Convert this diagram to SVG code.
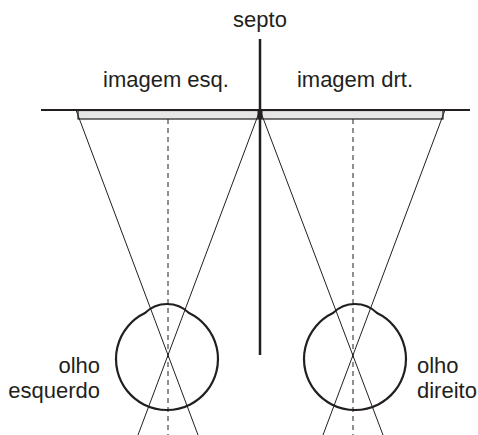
<svg xmlns="http://www.w3.org/2000/svg" width="478" height="435" viewBox="0 0 478 435">
  <style>
    .lbl { font-family: "Liberation Sans", Arial, sans-serif; font-size: 22px; fill: #231f20; }
    .ray { stroke: #231f20; stroke-width: 1; fill: none; }
    .axis { stroke: #231f20; stroke-width: 1; stroke-dasharray: 5 4; fill: none; }
    .eye { stroke: #231f20; stroke-width: 2.2; fill: none; }
    .bar { fill: #e6e6e6; stroke: #231f20; stroke-width: 1.2; }
  </style>
  <rect width="478" height="435" fill="#ffffff"/>

  <!-- screen with the two images -->
  <g id="screen">
    <rect class="bar" x="78" y="110.5" width="181" height="8.5"/>
    <rect class="bar" x="261" y="110.5" width="182" height="8.5"/>
    <line x1="41" y1="110" x2="470" y2="110" stroke="#231f20" stroke-width="2.2"/>
  </g>

  <!-- connectors: light rays and optical axes -->
  <g id="connectors">
    <line class="ray" x1="76" y1="110" x2="198" y2="435"/>
    <line class="ray" x1="260" y1="110" x2="138" y2="435"/>
    <line class="ray" x1="260" y1="110" x2="383" y2="435"/>
    <line class="ray" x1="445" y1="110" x2="323" y2="435"/>
    <line class="axis" x1="168" y1="119" x2="168" y2="435"/>
    <line class="axis" x1="353" y1="119" x2="353" y2="435"/>
  </g>

  <!-- septum -->
  <g id="septo">
    <line x1="260" y1="39" x2="260" y2="355" stroke="#231f20" stroke-width="2.5"/>
    <rect x="257.5" y="110" width="5" height="9" fill="#231f20"/>
    <text class="lbl" x="260" y="27" text-anchor="middle">septo</text>
  </g>

  <g id="imagem-esq">
    <text class="lbl" x="166" y="87" text-anchor="middle">imagem esq.</text>
  </g>
  <g id="imagem-drt">
    <text class="lbl" x="355" y="87" text-anchor="middle">imagem drt.</text>
  </g>

  <!-- left eye -->
  <g id="olho-esquerdo">
    <path class="eye" d="M145 313 A31.4 31.4 0 0 1 189 313 A51 51 0 1 1 145 313 Z"/>
    <text class="lbl" x="100" y="373" text-anchor="end">olho</text>
    <text class="lbl" x="100" y="398" text-anchor="end">esquerdo</text>
  </g>

  <!-- right eye -->
  <g id="olho-direito">
    <path class="eye" d="M333 313 A31.4 31.4 0 0 1 377 313 A51 51 0 1 1 333 313 Z"/>
    <text class="lbl" x="417" y="373">olho</text>
    <text class="lbl" x="417" y="398">direito</text>
  </g>
</svg>
